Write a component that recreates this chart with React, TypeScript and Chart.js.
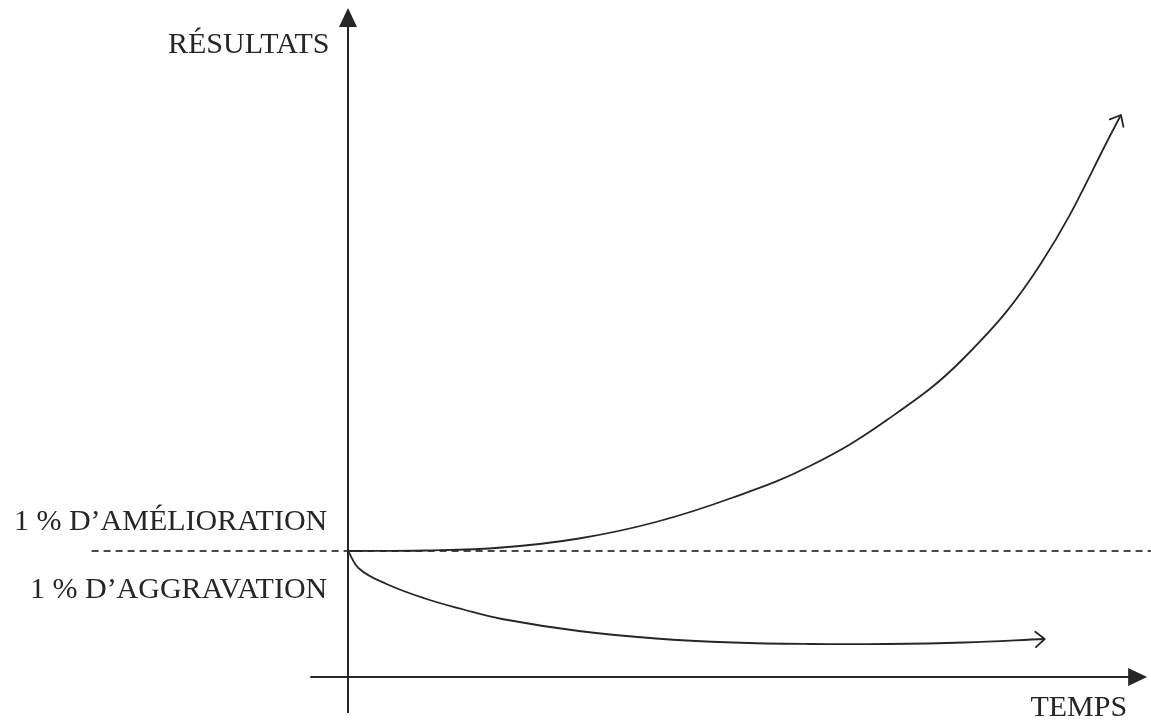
import React, { useEffect, useRef } from "react";
import { Chart, registerables } from "chart.js";

Chart.register(...registerables);

// ---- Data (time units / result units) ----
const TIME_AMELIORATION = [0, 1, 2, 3, 4, 5, 6, 7, 8, 9, 10.04];
const RESULTATS_AMELIORATION = [0, 0.01, 0.07, 0.25, 0.58, 1.07, 1.7, 2.62, 3.86, 5.75, 8.72];

const TIME_AGGRAVATION = [0, 0.15, 0.5, 1, 1.5, 2, 3, 4, 5, 6, 7, 8, 9.05];
const RESULTATS_AGGRAVATION = [0, -0.36, -0.66, -0.95, -1.17, -1.36, -1.6, -1.75, -1.83, -1.86, -1.86, -1.83, -1.76];

const BASELINE = 0;
const X_RANGE = [-4.52, 10.43];
const Y_RANGE = [-3.4, 11.02];
const TIME_AXIS_SPAN = [-0.49, 10.38];
const TIME_AXIS_LEVEL = -2.52;
const RESULT_AXIS_SPAN = [-3.24, 10.86];
const DASH_START = -3.33;

// ---- Labels ----
const Y_TITLE = "RÉSULTATS";
const X_TITLE = "TEMPS";
const LABEL_UP = "1 % D’AMÉLIORATION";
const LABEL_DOWN = "1 % D’AGGRAVATION";
// label anchors in data units [x, y]
const Y_TITLE_POS = [-0.24, 9.96];
const X_TITLE_POS = [10.12, -3.3];
const LABEL_UP_POS = [-0.27, 0.42];
const LABEL_DOWN_POS = [-0.27, -0.94];

const INK = "#262626";
const FONT = '30px "Liberation Serif", "DejaVu Serif", serif';

function toPoints(xs: number[], ys: number[]) {
  return xs.map((x, i) => ({ x, y: ys[i] }));
}

const decorPlugin = {
  id: "decor",
  afterDatasetsDraw(chart: any) {
    const ctx = chart.ctx as CanvasRenderingContext2D;
    const xs = chart.scales.x;
    const ys = chart.scales.y;
    const px = (v: number) => xs.getPixelForValue(v);
    const py = (v: number) => ys.getPixelForValue(v);

    ctx.save();
    // filled arrowheads for the axes
    ctx.fillStyle = INK;
    const L = 19;
    const H = 9;
    // vertical axis (up)
    const yx = px(0);
    const yt = py(RESULT_AXIS_SPAN[1]);
    ctx.beginPath();
    ctx.moveTo(yx, yt);
    ctx.lineTo(yx - H, yt + L);
    ctx.lineTo(yx + H, yt + L);
    ctx.closePath();
    ctx.fill();
    // horizontal axis (right)
    const xt = px(TIME_AXIS_SPAN[1]);
    const xy = py(TIME_AXIS_LEVEL);
    ctx.beginPath();
    ctx.moveTo(xt, xy);
    ctx.lineTo(xt - L, xy - H);
    ctx.lineTo(xt - L, xy + H);
    ctx.closePath();
    ctx.fill();

    // open arrowheads at curve ends
    const openArrow = (dsIndex: number) => {
      const meta = chart.getDatasetMeta(dsIndex);
      const pts = meta.data;
      const last = pts[pts.length - 1];
      let fx = last.cp1x;
      let fy = last.cp1y;
      if (fx === undefined || (Math.abs(fx - last.x) < 0.01 && Math.abs(fy - last.y) < 0.01)) {
        fx = pts[pts.length - 2].x;
        fy = pts[pts.length - 2].y;
      }
      const ang = Math.atan2(last.y - fy, last.x - fx);
      const len = 12;
      const spread = (40 * Math.PI) / 180;
      ctx.strokeStyle = INK;
      ctx.lineWidth = 1.8;
      ctx.lineCap = "round";
      ctx.lineJoin = "round";
      ctx.beginPath();
      ctx.moveTo(last.x - len * Math.cos(ang - spread), last.y - len * Math.sin(ang - spread));
      ctx.lineTo(last.x, last.y);
      ctx.lineTo(last.x - len * Math.cos(ang + spread), last.y - len * Math.sin(ang + spread));
      ctx.stroke();
    };
    openArrow(1);
    openArrow(2);

    // texts
    ctx.fillStyle = INK;
    ctx.font = FONT;
    ctx.textBaseline = "alphabetic";
    ctx.textAlign = "right";
    ctx.fillText(Y_TITLE, px(Y_TITLE_POS[0]), py(Y_TITLE_POS[1]));
    ctx.fillText(LABEL_UP, px(LABEL_UP_POS[0]), py(LABEL_UP_POS[1]));
    ctx.fillText(LABEL_DOWN, px(LABEL_DOWN_POS[0]), py(LABEL_DOWN_POS[1]));
    ctx.fillText(X_TITLE, px(X_TITLE_POS[0]), py(X_TITLE_POS[1]));
    ctx.restore();
  },
};

export default function App() {
  const ref = useRef<HTMLCanvasElement | null>(null);

  useEffect(() => {
    if (!ref.current) return;
    const chart = new Chart(ref.current, {
      type: "scatter",
      data: {
        datasets: [
          {
            label: "base",
            data: [
              { x: DASH_START, y: BASELINE },
              { x: X_RANGE[1], y: BASELINE },
            ],
            showLine: true,
            borderColor: "#4a4a4a",
            borderWidth: 1.8,
            borderDash: [7, 5],
            pointRadius: 0,
            order: 5,
          },
          {
            label: "amélioration",
            data: toPoints(TIME_AMELIORATION, RESULTATS_AMELIORATION),
            showLine: true,
            borderColor: INK,
            borderWidth: 1.8,
            tension: 0.4,
            pointRadius: 0,
            order: 1,
          },
          {
            label: "aggravation",
            data: toPoints(TIME_AGGRAVATION, RESULTATS_AGGRAVATION),
            showLine: true,
            borderColor: INK,
            borderWidth: 1.8,
            tension: 0.4,
            pointRadius: 0,
            order: 1,
          },
          {
            label: "axe résultats",
            data: [
              { x: 0, y: RESULT_AXIS_SPAN[0] },
              { x: 0, y: RESULT_AXIS_SPAN[1] - 0.2 },
            ],
            showLine: true,
            borderColor: INK,
            borderWidth: 2,
            pointRadius: 0,
            order: 2,
          },
          {
            label: "axe temps",
            data: [
              { x: TIME_AXIS_SPAN[0], y: TIME_AXIS_LEVEL },
              { x: TIME_AXIS_SPAN[1] - 0.15, y: TIME_AXIS_LEVEL },
            ],
            showLine: true,
            borderColor: INK,
            borderWidth: 2,
            pointRadius: 0,
            order: 2,
          },
        ],
      },
      options: {
        animation: false,
        responsive: false,
        maintainAspectRatio: false,
        layout: { padding: 0 },
        plugins: {
          legend: { display: false },
          tooltip: { enabled: false },
        },
        scales: {
          x: { type: "linear", min: X_RANGE[0], max: X_RANGE[1], display: false },
          y: { type: "linear", min: Y_RANGE[0], max: Y_RANGE[1], display: false },
        },
      },
      plugins: [decorPlugin],
    } as any);
    return () => chart.destroy();
  }, []);

  return (
    <div style={{ position: "fixed", left: 0, top: 0, width: 1151, height: 721, background: "#fff" }}>
      <canvas ref={ref} width={1151} height={721} style={{ display: "block" }} />
    </div>
  );
}
